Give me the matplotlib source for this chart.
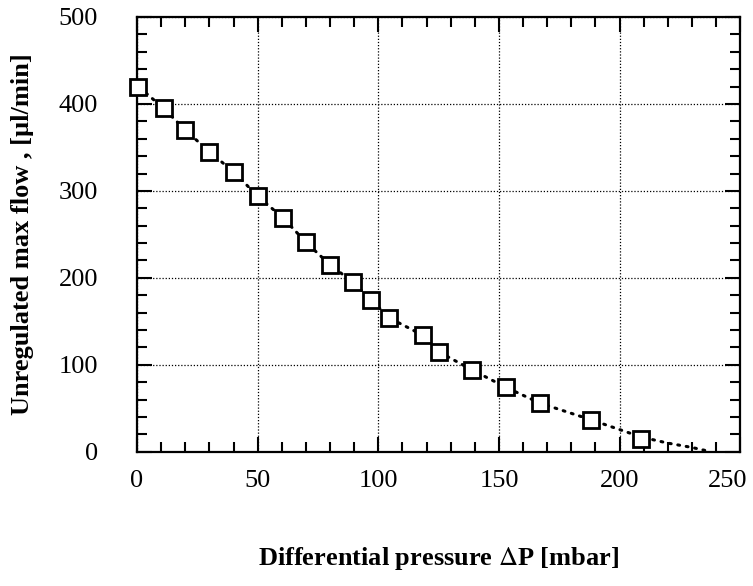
import matplotlib
matplotlib.use('Agg')
import matplotlib.pyplot as plt
from matplotlib.ticker import MultipleLocator, FixedFormatter

# measured points (differential pressure in mbar, flow in ul/min)
pressure = [0.3, 11, 20, 30, 40, 50, 60.5, 70, 80, 89.5, 97, 104.5, 118.5, 125, 139, 153, 167, 188, 209]
flow = [419, 395, 370, 345, 322, 294, 269, 241, 215, 195, 175, 154, 134, 115, 94, 74, 56, 37, 15]

# dotted trend line running through the points and down to zero
trend_x = [1, 11, 20, 30, 40, 50, 60.5, 70, 80, 89.5, 97, 104.5, 118.5, 125, 139, 153, 167, 188, 209, 220, 230, 238]
trend_y = [419, 395, 370, 345, 322, 294, 269, 241, 215, 195, 175, 154, 134, 115, 94, 74, 56, 37, 17, 10, 5, 0]

xticks = [0, 50, 100, 150, 200, 250]
xtick_labels = ['0', '50', '100', '150', '200', '250']

plt.rcParams['font.family'] = ['Liberation Serif', 'DejaVu Serif']
plt.rcParams['mathtext.fontset'] = 'stix'

fig = plt.figure(figsize=(7.53, 5.86), dpi=100)
ax = fig.add_axes([0.182, 0.229, 0.801, 0.742])

ax.plot(trend_x, trend_y, linestyle=(0, (0.6, 2.2)), color='black', linewidth=2.2,
        dash_capstyle='round', zorder=2)
ax.plot(pressure, flow, linestyle='none', marker='s', markersize=11.5, markerfacecolor='white',
        markeredgecolor='black', markeredgewidth=2, zorder=3, clip_on=False)

ax.set_xlim(0, 250)
ax.set_ylim(0, 500)
ax.set_xticks(xticks)
# last label is drawn by hand so it stays inside the figure
ax.xaxis.set_major_formatter(FixedFormatter(xtick_labels[:-1] + ['']))
ax.xaxis.set_minor_locator(MultipleLocator(10))
ax.yaxis.set_major_locator(MultipleLocator(100))
ax.yaxis.set_minor_locator(MultipleLocator(20))

ax.tick_params(which='both', direction='in', top=True, right=True, width=1.5, labelsize=19)
ax.tick_params(which='major', length=11)
ax.tick_params(which='minor', length=7)
ax.tick_params(axis='x', pad=13)
ax.tick_params(axis='y', pad=28)

ax.annotate(xtick_labels[-1], xy=(xticks[-1], 0), xycoords=('data', 'axes fraction'),
            xytext=(5, -13), textcoords='offset points', ha='right', va='top', fontsize=19)

for s in ax.spines.values():
    s.set_linewidth(1.6)

ax.grid(True, which='major', linestyle=(0, (1, 1.5)), color='black', linewidth=0.9)

ax.set_xlabel('Differential pressure $\\Delta$P [mbar]', fontsize=19, fontweight='bold', labelpad=38)
ax.set_ylabel('Unregulated max flow , [\u00b5l/min]', fontsize=19, fontweight='bold', labelpad=18)

fig.savefig('out.png', dpi=100)
